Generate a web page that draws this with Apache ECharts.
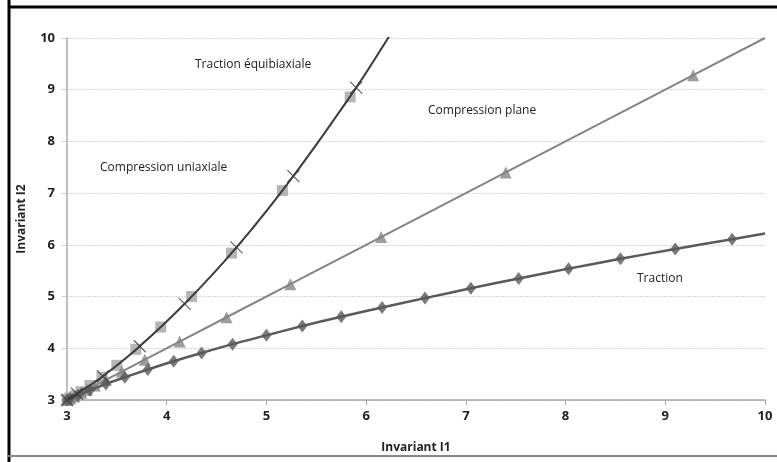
<!DOCTYPE html>
<html>
<head>
<meta charset="utf-8">
<script src="https://cdn.jsdelivr.net/npm/echarts@6/dist/echarts.min.js"></script>
<style>
html, body { margin: 0; padding: 0; background: #fff; }
#chart { width: 777px; height: 462px; }
</style>
</head>
<body>
<div id="chart"></div>
<script>
// points, [I1, I2]
var tractionPts = [[3,3],[3.03,3.03],[3.11,3.09],[3.23,3.19],[3.39,3.31],[3.58,3.44],[3.81,3.59],[4.07,3.75],[4.35,3.91],[4.66,4.08],[5.0,4.25],[5.36,4.43],[5.75,4.61],[6.16,4.79],[6.59,4.97],[7.05,5.16],[7.53,5.35],[8.03,5.54],[8.55,5.73],[9.1,5.92],[9.67,6.11]];
var tractionEnd = [[10,6.22]];
var equiPts = [[3,3],[3.1,3.12],[3.36,3.46],[3.73,4.04],[4.18,4.86],[4.7,5.95],[5.27,7.33],[5.9,9.04]];
var equiEnd = [[6.23,10.03]];
var compUniPts = [[3,3],[3.01,3.01],[3.03,3.04],[3.08,3.08],[3.14,3.16],[3.23,3.28],[3.35,3.44],[3.5,3.67],[3.69,3.98],[3.94,4.41],[4.25,5],[4.65,5.84],[5.16,7.05],[5.84,8.86]];
var planePts = [[3,3],[3.03,3.03],[3.07,3.07],[3.14,3.14],[3.2,3.2],[3.28,3.28],[3.39,3.39],[3.55,3.55],[3.78,3.78],[4.13,4.13],[4.6,4.6],[5.24,5.24],[6.15,6.15],[7.4,7.4],[9.28,9.28]];
var planeEnd = [[10,10]];
var ticks = [3,4,5,6,7,8,9,10];

var chart = echarts.init(document.getElementById('chart'));
var txt = {fontFamily: 'Open Sans', fontSize: 12, fill: '#222'};
var option = {
    animation: false,
    grid: {left: 67, right: 12, top: 38, bottom: 62},
    xAxis: {
        type: 'value', min: ticks[0], max: ticks[ticks.length-1], interval: 1,
        name: 'Invariant I1', nameLocation: 'middle', nameGap: 42,
        nameTextStyle: {fontFamily: 'Open Sans', fontWeight: 'bold', fontSize: 12, color: '#222'},
        axisLine: {lineStyle: {color: '#a8a8a8', width: 1.5}},
        axisTick: {show: true, length: 5, lineStyle: {color: '#a8a8a8'}},
        axisLabel: {margin: 10, fontFamily: 'Open Sans', fontWeight: 'bold', fontSize: 13, color: '#222'},
        splitLine: {show: false}
    },
    yAxis: {
        type: 'value', min: ticks[0], max: ticks[ticks.length-1], interval: 1,
        name: 'Invariant I2', nameLocation: 'middle', nameGap: 39,
        nameTextStyle: {fontFamily: 'Open Sans', fontWeight: 'bold', fontSize: 12, color: '#222'},
        axisLine: {show: true, lineStyle: {color: '#a8a8a8', width: 1.5}},
        axisTick: {show: true, length: 5, lineStyle: {color: '#c8c8c8'}},
        axisLabel: {margin: 12, fontFamily: 'Open Sans', fontWeight: 'bold', fontSize: 13, color: '#222'},
        splitLine: {show: true, lineStyle: {color: '#cfd8de', type: [2, 1], width: 1}}
    },
    series: [
        {
            name: 'Compression uniaxiale', type: 'scatter', data: compUniPts,
            symbol: 'rect', symbolSize: 11, itemStyle: {color: '#a4a4a4'}, z: 1
        },
        {
            name: 'Compression plane', type: 'line', data: planePts.concat(planeEnd),
            showSymbol: false, lineStyle: {color: '#848484', width: 2}, z: 2
        },
        {
            name: 'Compression plane pts', type: 'scatter', data: planePts,
            symbol: 'triangle', symbolSize: 12, itemStyle: {color: '#848484'}, z: 3
        },
        {
            name: 'Traction', type: 'line', data: tractionPts.concat(tractionEnd), smooth: 0.3,
            showSymbol: false, lineStyle: {color: '#5a5a5a', width: 2.5}, z: 4
        },
        {
            name: 'Traction pts', type: 'scatter', data: tractionPts,
            symbol: 'diamond', symbolSize: [10, 13], itemStyle: {color: '#5a5a5a'}, z: 5
        },
        {
            name: 'Traction équibiaxiale', type: 'line', data: equiPts.concat(equiEnd), smooth: 0.3,
            showSymbol: false, lineStyle: {color: '#3c3c3c', width: 2}, z: 6
        },
        {
            name: 'Traction équibiaxiale pts', type: 'scatter', data: equiPts,
            symbol: 'path://M0,0L10,10M10,0L0,10', symbolSize: 12,
            itemStyle: {color: 'none', borderColor: '#3c3c3c', borderWidth: 1.2}, z: 7
        }
    ],
    graphic: [
        {type: 'line', shape: {x1: 9, y1: 0, x2: 9, y2: 462}, style: {stroke: '#000', lineWidth: 3}},
        {type: 'line', shape: {x1: 8, y1: 7, x2: 777, y2: 7}, style: {stroke: '#000', lineWidth: 3}},
        {type: 'line', shape: {x1: 8, y1: 456, x2: 777, y2: 456}, style: {stroke: '#888', lineWidth: 2}},
        {type: 'text', left: 195, top: 59, style: Object.assign({text: 'Traction équibiaxiale'}, txt)},
        {type: 'text', left: 428, top: 105, style: Object.assign({text: 'Compression plane'}, txt)},
        {type: 'text', left: 100, top: 162, style: Object.assign({text: 'Compression uniaxiale'}, txt)},
        {type: 'text', left: 637, top: 273, style: Object.assign({text: 'Traction'}, txt)}
    ]
};
chart.setOption(option);
</script>
</body>
</html>
